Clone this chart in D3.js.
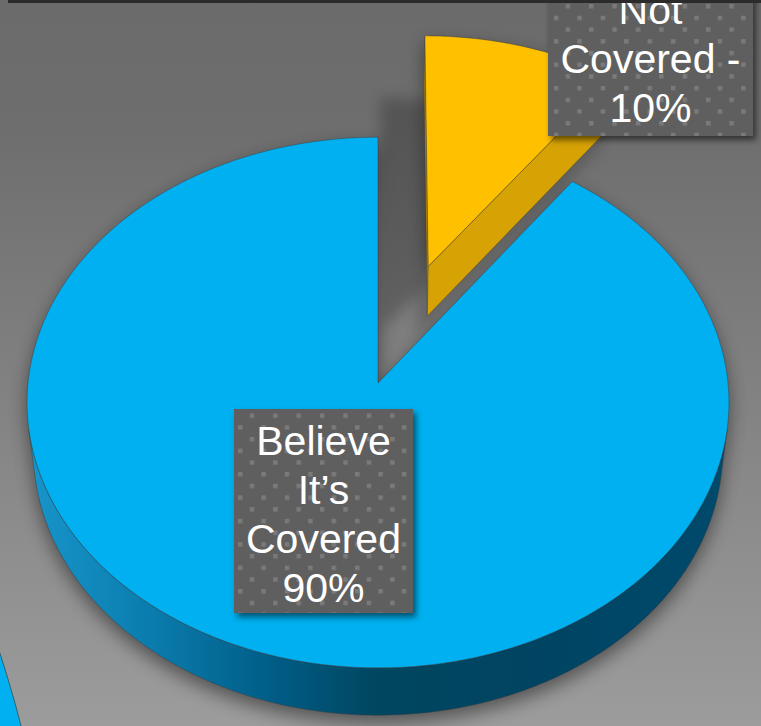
<!DOCTYPE html>
<html>
<head>
<meta charset="utf-8">
<script src="https://cdn.jsdelivr.net/npm/d3@7"></script>
<style>
  html, body { margin: 0; padding: 0; background: #6c6c6c; }
  svg { display: block; }
</style>
</head>
<body>
<svg id="chart" width="761" height="726"></svg>
<script>
// ---------- data ----------
const categories = ["Believe It’s Covered", "Not Covered"];
const values = [90, 10];
const valueLabels = ["90%", "10%"];
const labelLines = [["Believe", "It’s", "Covered", "90%"], ["Not", "Covered -", "10%"]];
const sliceColors = ["#00b0f0", "#ffc000"];
const explode = [0, 168];

// ---------- layout ----------
const W = 761, H = 726;
const svg = d3.select("#chart");
const defs = svg.append("defs");

// background gradient
const bg = defs.append("linearGradient").attr("id", "bg").attr("x1", 0).attr("y1", 0).attr("x2", 0).attr("y2", 1);
bg.append("stop").attr("offset", 0).attr("stop-color", "#6b6b6b");
bg.append("stop").attr("offset", 0.18).attr("stop-color", "#6e6e6e");
bg.append("stop").attr("offset", 0.6).attr("stop-color", "#858585");
bg.append("stop").attr("offset", 1).attr("stop-color", "#9c9c9c");
svg.append("rect").attr("width", W).attr("height", H).attr("fill", "url(#bg)");

// filters
const blurF = defs.append("filter").attr("id", "blur").attr("x", "-20%").attr("y", "-20%").attr("width", "140%").attr("height", "140%");
blurF.append("feGaussianBlur").attr("stdDeviation", 9);
const blurY = defs.append("filter").attr("id", "blurY").attr("x", "-50%").attr("y", "-50%").attr("width", "200%").attr("height", "200%");
blurY.append("feGaussianBlur").attr("stdDeviation", 7);
const boxSh = defs.append("filter").attr("id", "boxShadow").attr("x", "-20%").attr("y", "-20%").attr("width", "150%").attr("height", "150%");
boxSh.append("feDropShadow").attr("dx", 3).attr("dy", 4).attr("stdDeviation", 3).attr("flood-color", "#000").attr("flood-opacity", 0.55);

// side gradient (blue)
const sg = defs.append("linearGradient").attr("id", "sideBlue").attr("gradientUnits", "userSpaceOnUse")
  .attr("x1", 25).attr("y1", 0).attr("x2", 730).attr("y2", 0);
[[0, "#1896cc"], [0.18, "#0a7cad"], [0.36, "#005b84"], [0.5, "#00465f"], [0.75, "#004463"], [1, "#004a6c"]]
  .forEach(([o, c]) => sg.append("stop").attr("offset", o).attr("stop-color", c));

// dot pattern for label boxes
const pat = defs.append("pattern").attr("id", "dots").attr("patternUnits", "userSpaceOnUse")
  .attr("width", 23.4).attr("height", 23.4).attr("x", 4).attr("y", 4);
pat.append("rect").attr("width", 23.4).attr("height", 23.4).attr("fill", "#5e5e5e");
pat.append("rect").attr("x", 0).attr("y", 0).attr("width", 4.5).attr("height", 4.5).attr("fill", "#7a7a7a");
pat.append("rect").attr("x", 11.7).attr("y", 11.7).attr("width", 4.5).attr("height", 4.5).attr("fill", "#7a7a7a");

// decorative blue shape peeking in the bottom-left corner
svg.append("circle").attr("cx", -1117).attr("cy", 1018).attr("r", 1175)
  .attr("fill", "#00b0f0").attr("stroke", "#3a4a52").attr("stroke-width", 0.8);

// ---------- 3D projection ----------
const R = 350, thick = 76;
const S = 0.754, C = 0.657, D = 3124;
const cx = 378, cy = 383;
function proj(X, Y, Z) {
  const v = Z * S - Y * C;
  const w = Z * C + Y * S;
  const k = D / (D - w);
  return [cx + X * k, cy + v * k];
}
function rimPoint(a, y, off) {
  return proj(off.x + R * Math.sin(a), y, off.z - R * Math.cos(a));
}
function centerPoint(y, off) { return proj(off.x, y, off.z); }

const pie = d3.pie().sort(null).value(d => d).startAngle(0.2 * Math.PI).endAngle(2.2 * Math.PI);
const arcs = pie(values);
const line = d3.line();
const angleScale = d3.scaleLinear().range([0, 1]);

function sliceGeom(arc, i) {
  const mid = (arc.startAngle + arc.endAngle) / 2;
  const off = { x: explode[i] * Math.sin(mid), z: -explode[i] * Math.cos(mid) };
  const n = Math.max(8, Math.ceil((arc.endAngle - arc.startAngle) / 0.01));
  angleScale.domain([0, n]).range([arc.startAngle, arc.endAngle]);
  const angles = d3.range(n + 1).map(angleScale);
  const top = [centerPoint(0, off)].concat(angles.map(a => rimPoint(a, 0, off)));
  const vis = a => (-off.x * Math.sin(a) + off.z * Math.cos(a) - R - D * C * Math.cos(a)) > 0;
  const runs = [];
  let cur = null;
  angles.forEach(a => {
    if (vis(a)) { if (!cur) { cur = []; runs.push(cur); } cur.push(a); } else cur = null;
  });
  const sides = runs.filter(r => r.length > 1).map(r =>
    r.map(a => rimPoint(a, 0, off)).concat(r.slice().reverse().map(a => rimPoint(a, -thick, off))));
  const radial = ang => [centerPoint(0, off), rimPoint(ang, 0, off), rimPoint(ang, -thick, off), centerPoint(-thick, off)];
  return { off, top, sides, startFace: radial(arc.startAngle), endFace: radial(arc.endAngle) };
}

const geoms = arcs.map((a, i) => sliceGeom(a, i));

// pie shadow on background
const shadowG = svg.append("g").attr("filter", "url(#blur)").attr("opacity", 0.45).attr("transform", "translate(0,8)");
geoms.forEach(g => {
  shadowG.append("path").attr("d", line(g.top) + "Z").attr("fill", "#000");
  g.sides.forEach(s => shadowG.append("path").attr("d", line(s) + "Z").attr("fill", "#000"));
});

// yellow cast shadow
const yg = geoms[1];
svg.append("path").attr("d", line(yg.top) + "Z").attr("fill", "#000").attr("opacity", 0.22)
  .attr("filter", "url(#blurY)").attr("transform", "translate(-45,62)");
svg.append("path").attr("d", line(yg.endFace) + "Z").attr("fill", "#000").attr("opacity", 0.18)
  .attr("filter", "url(#blurY)").attr("transform", "translate(-10,20)");

// draw exploded (back) slice first, then main slice
const order = [1, 0];
const stroke = "rgba(55,60,64,0.75)";
order.forEach(i => {
  const g = geoms[i];
  const grp = svg.append("g").attr("class", "slice").attr("data-category", categories[i]);
  if (i === 1) {
    grp.append("path").attr("d", line(g.startFace) + "Z").attr("fill", "#b88a00").attr("stroke", stroke).attr("stroke-width", 0.5);
    grp.append("path").attr("d", line(g.endFace) + "Z").attr("fill", "#d6a204").attr("stroke", stroke).attr("stroke-width", 0.5);
  }
  g.sides.forEach(s => grp.append("path").attr("d", line(s) + "Z")
    .attr("fill", i === 0 ? "url(#sideBlue)" : "#c99700").attr("stroke", stroke).attr("stroke-width", 0.6));
  grp.append("path").attr("d", line(g.top) + "Z").attr("fill", sliceColors[i])
    .attr("stroke", stroke).attr("stroke-width", 0.6);
});

// ---------- labels ----------
const boxes = [
  { x: 234, y: 409, w: 179, h: 204, firstBaseline: 46 },
  { x: 548, y: -14, w: 205, h: 150, firstBaseline: 38 }
];
const lineH = 49;
boxes.forEach((b, i) => {
  const g = svg.append("g").attr("class", "label");
  g.append("rect").attr("x", b.x).attr("y", b.y).attr("width", b.w).attr("height", b.h)
    .attr("fill", "url(#dots)").attr("filter", "url(#boxShadow)");
  g.append("text")
    .attr("x", b.x + b.w / 2).attr("y", b.y + b.firstBaseline)
    .attr("text-anchor", "middle")
    .attr("font-family", "'Liberation Sans', Arial, Helvetica, sans-serif")
    .attr("font-size", 41).attr("fill", "#ffffff")
    .selectAll("tspan").data(labelLines[i]).join("tspan")
    .attr("x", b.x + b.w / 2).attr("dy", (d, j) => j === 0 ? 0 : lineH)
    .text(d => d);
});

// top dark bar
svg.append("rect").attr("x", 8).attr("y", 0).attr("width", W - 8).attr("height", 3).attr("fill", "#2b2b2b");
</script>
</body>
</html>
